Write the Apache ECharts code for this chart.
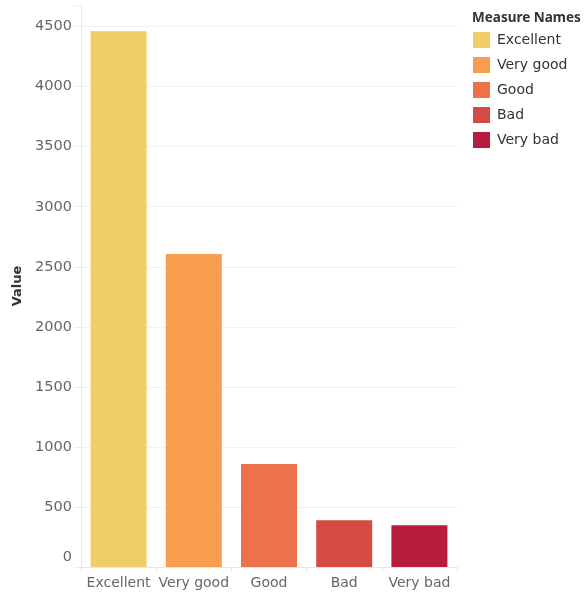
<!DOCTYPE html>
<html>
<head>
<meta charset="utf-8">
<script src="https://cdn.jsdelivr.net/npm/echarts@6/dist/echarts.min.js"></script>
<style>
  html, body { margin: 0; padding: 0; background: #fff; }
  #chart { width: 587px; height: 592px; }
</style>
</head>
<body>
<div id="chart"></div>
<script>
// Ratings and how many responses each received
const categories = ['Excellent', 'Very good', 'Good', 'Bad', 'Very bad'];
const values = [4461, 2606, 858, 389, 347];
const colors = ['#f1cd67', '#f99e4e', '#ed714b', '#d64a44', '#b81d3e'];
const yTicks = [0, 500, 1000, 1500, 2000, 2500, 3000, 3500, 4000, 4500];

const FONT = 'DejaVu Sans';

// One series per rating so each gets its own legend entry; stacking keeps bars centred
const series = categories.map((name, i) => ({
  name: name,
  type: 'bar',
  stack: 'total',
  barWidth: 56,
  itemStyle: { color: colors[i] },
  data: categories.map((_, j) => (j === i ? values[i] : '-'))
}));

const chart = echarts.init(document.getElementById('chart'), null, { renderer: 'canvas' });
chart.setOption({
  animation: false,
  title: {
    text: 'Measure Names',
    left: 472, top: 11, padding: 0,
    textStyle: { fontFamily: 'Noto Sans', fontSize: 13.5, fontWeight: 'bold', color: '#333' }
  },
  legend: {
    orient: 'vertical',
    left: 473, top: 32, padding: 0,
    itemWidth: 17, itemHeight: 16, itemGap: 9,
    icon: 'rect',
    textStyle: { fontFamily: FONT, fontSize: 14, color: '#333', padding: [0, 0, 0, 2] },
    data: categories
  },
  grid: { left: 81, right: 130, top: 5, bottom: 25, containLabel: false, outerBoundsMode: 'none' },
  xAxis: {
    type: 'category',
    data: categories,
    axisLine: { lineStyle: { color: '#e6e6e6' } },
    axisTick: { show: true, length: 5, lineStyle: { color: '#e6e6e6' } },
    axisLabel: { fontFamily: FONT, fontSize: 14, color: '#666', margin: 9, interval: 0 }
  },
  yAxis: {
    type: 'value',
    min: 0, max: 4680, interval: 500,
    name: 'Value',
    nameLocation: 'middle',
    nameRotate: 90,
    nameGap: 56,
    nameTextStyle: { fontFamily: FONT, fontSize: 13, fontWeight: 'bold', color: '#333' },
    axisLine: { show: true, lineStyle: { color: '#ebebeb' } },
    axisTick: { show: true, length: 7, lineStyle: { color: '#ebebeb' } },
    splitLine: { show: true, showMaxLine: false, lineStyle: { color: '#f1f1f1' } },
    axisLabel: {
      fontFamily: FONT, fontSize: 14.5, color: '#666', margin: 9,
      formatter: v => {
        if (!yTicks.includes(v)) return '';
        return v === 0 ? '{z|0}' : String(v);
      },
      rich: { z: { fontFamily: FONT, fontSize: 14.5, color: '#666', padding: [0, 0, 20, 0] } }
    }
  },
  series: series
});
</script>
</body>
</html>
